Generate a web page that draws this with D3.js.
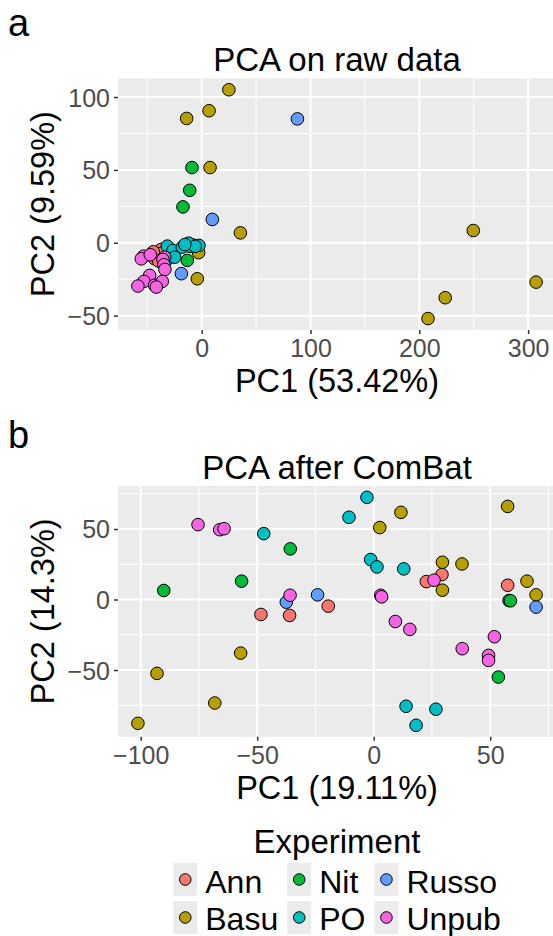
<!DOCTYPE html>
<html>
<head>
<meta charset="utf-8">
<script src="https://cdn.jsdelivr.net/npm/d3@7"></script>
<style>
  html, body { margin: 0; padding: 0; background: #ffffff; }
  svg text { font-family: "Liberation Sans", Arial, Helvetica, sans-serif; }
</style>
</head>
<body>
<svg id="fig" width="553" height="936"></svg>
<script>
// Experiment groups and their ggplot-style hue colours
const experiments = ["Ann", "Basu", "Nit", "PO", "Russo", "Unpub"];
const expColors = ["#F8766D", "#B79F00", "#00BA38", "#00BFC4", "#619CFF", "#F564E3"];

// PCA scores on raw data: [PC1, PC2, experiment]
const rawPoints = [
  [-37.1, -4.6, "Ann"], [-43.2, -11.0, "Ann"], [-40.5, -7.5, "Ann"],
  [-35.5, -6.8, "Ann"], [-44.5, -6.2, "Ann"], [-39.5, -12.5, "Ann"],
  [25, 105, "Basu"], [6.8, 90.6, "Basu"], [-13.8, 85.3, "Basu"], [7.7, 51.6, "Basu"],
  [35.6, 6.8, "Basu"], [-27.9, -6.4, "Basu"], [-2.8, -6.8, "Basu"], [-4.0, -24.7, "Basu"],
  [249.6, 8.4, "Basu"], [307.3, -27, "Basu"], [223.8, -37.7, "Basu"], [208, -52, "Basu"],
  [-8.9, 51.6, "Nit"], [-11, 36, "Nit"], [-17.2, 24.6, "Nit"], [-8, -1.6, "Nit"],
  [-13.2, -12.1, "Nit"], [-10.5, -2.5, "Nit"],
  [-31.6, -2.3, "PO"], [-26.4, -5.3, "PO"], [-17.8, -3, "PO"], [-12, -0.3, "PO"],
  [-2.5, -1.8, "PO"], [-31, -11, "PO"], [-24.8, -9.9, "PO"], [-6, -2.4, "PO"], [-15.5, -1.2, "PO"],
  [88, 85, "Russo"], [9.8, 16, "Russo"], [-18.7, -21.2, "Russo"],
  [-53.4, -9.2, "Unpub"], [-55.5, -11, "Unpub"], [-47.2, -8.2, "Unpub"], [-34, -9.9, "Unpub"],
  [-35.6, -11.5, "Unpub"], [-34.7, -15.1, "Unpub"], [-33.8, -18.3, "Unpub"], [-47.8, -22.4, "Unpub"],
  [-53.1, -26.5, "Unpub"], [-58.6, -29.7, "Unpub"], [-43.2, -29.2, "Unpub"], [-36.2, -26.5, "Unpub"],
  [-41.7, -30.4, "Unpub"]
];

// PCA scores after ComBat batch correction: [PC1, PC2, experiment]
const combatPoints = [
  [-48.4, -10.6, "Ann"], [-36.1, -11.3, "Ann"], [-19.5, -4.7, "Ann"],
  [22.6, 12.7, "Ann"], [29.3, 17.7, "Ann"], [57.5, 10.1, "Ann"],
  [11.7, 61.8, "Basu"], [2.6, 51, "Basu"], [57.5, 66, "Basu"], [29.5, 26.4, "Basu"],
  [37.9, 25.2, "Basu"], [29.5, 6.6, "Basu"], [65.8, 13, "Basu"], [69.7, 3.3, "Basu"],
  [-57.1, -38, "Basu"], [-93, -52.4, "Basu"], [-68.2, -73.4, "Basu"], [-101.2, -87.8, "Basu"],
  [-35.8, 35.9, "Nit"], [-56.7, 13, "Nit"], [-90.1, 6.4, "Nit"], [58.1, -0.7, "Nit"],
  [58.7, -0.9, "Nit"], [53.5, -55, "Nit"],
  [-47.2, 46.7, "PO"], [-2.9, 72.4, "PO"], [-10.6, 58.3, "PO"], [-1.3, 28.3, "PO"],
  [1.4, 23.1, "PO"], [12.9, 21.7, "PO"], [13.9, -75.7, "PO"], [26.7, -77.8, "PO"], [18.2, -89.2, "PO"],
  [-37.5, -1.9, "Russo"], [-24.1, 3.3, "Russo"], [69.7, -5.4, "Russo"],
  [-75.4, 53.1, "Unpub"], [-66.1, 49.5, "Unpub"], [-64.2, 50.2, "Unpub"], [-35.9, 3, "Unpub"],
  [3, 3, "Unpub"], [3.4, 1.9, "Unpub"], [25.9, 13.7, "Unpub"], [9.3, -15.6, "Unpub"],
  [15.5, -21.2, "Unpub"], [51.8, -26.4, "Unpub"], [38, -34.9, "Unpub"], [49.3, -39.6, "Unpub"],
  [49.3, -43.2, "Unpub"]
];

// Axis breaks
const rawXTicks = [0, 100, 200, 300];
const rawYTicks = [-50, 0, 50, 100];
const combatXTicks = [-100, -50, 0, 50];
const combatYTicks = [-50, 0, 50];

const svg = d3.select("#fig");
const color = d3.scaleOrdinal().domain(experiments).range(expColors);
const fmt = v => (v < 0 ? "\u2212" + Math.abs(v) : String(v));

// ggplot-like continuous range: data extent padded by 5% on each side
function expanded(vals) {
  const [lo, hi] = d3.extent(vals);
  const pad = (hi - lo) * 0.05;
  return [lo - pad, hi + pad];
}

// midpoints between major breaks that fall inside the domain
function minorBreaks(major, domain) {
  const step = major[1] - major[0];
  const out = [];
  for (let v = major[0] - step / 2; v <= domain[1]; v += step) {
    if (v >= domain[0]) out.push(v);
  }
  return out;
}

function panel(opts) {
  const { points, left, right, top, bottom, xTicks, yTicks, title, xLabel, yLabel, tag, tagY } = opts;
  const x = d3.scaleLinear().domain(expanded(points.map(d => d[0]))).range([left, right]);
  const y = d3.scaleLinear().domain(expanded(points.map(d => d[1]))).range([bottom, top]);
  const g = svg.append("g");

  g.append("rect").attr("x", left).attr("y", top)
    .attr("width", right - left).attr("height", bottom - top).attr("fill", "#EBEBEB");

  // minor grid
  g.selectAll(".xminor").data(minorBreaks(xTicks, x.domain())).join("line")
    .attr("x1", d => x(d)).attr("x2", d => x(d)).attr("y1", top).attr("y2", bottom)
    .attr("stroke", "#ffffff").attr("stroke-width", 1);
  g.selectAll(".yminor").data(minorBreaks(yTicks, y.domain())).join("line")
    .attr("y1", d => y(d)).attr("y2", d => y(d)).attr("x1", left).attr("x2", right)
    .attr("stroke", "#ffffff").attr("stroke-width", 1);
  // major grid
  g.selectAll(".xmajor").data(xTicks).join("line")
    .attr("x1", d => x(d)).attr("x2", d => x(d)).attr("y1", top).attr("y2", bottom)
    .attr("stroke", "#ffffff").attr("stroke-width", 2);
  g.selectAll(".ymajor").data(yTicks).join("line")
    .attr("y1", d => y(d)).attr("y2", d => y(d)).attr("x1", left).attr("x2", right)
    .attr("stroke", "#ffffff").attr("stroke-width", 2);

  // axes
  const xAxis = d3.axisBottom(x).tickValues(xTicks).tickFormat(fmt).tickSizeInner(4).tickSizeOuter(0).tickPadding(6);
  const yAxis = d3.axisLeft(y).tickValues(yTicks).tickFormat(fmt).tickSizeInner(4).tickSizeOuter(0).tickPadding(4);
  const xa = g.append("g").attr("transform", `translate(0,${bottom})`).call(xAxis);
  const ya = g.append("g").attr("transform", `translate(${left},0)`).call(yAxis);
  [xa, ya].forEach(a => {
    a.select(".domain").remove();
    a.selectAll(".tick line").attr("stroke", "#333333").attr("stroke-width", 1.5);
    a.selectAll(".tick text").attr("fill", "#4D4D4D").style("font-size", "25px");
  });
  xa.selectAll(".tick text").attr("dy", "0.68em");
  ya.selectAll(".tick text").attr("dy", "0.36em");

  // points
  g.selectAll(".pt").data(points).join("circle")
    .attr("cx", d => x(d[0])).attr("cy", d => y(d[1])).attr("r", 6.3)
    .attr("fill", d => color(d[2])).attr("stroke", "#000000").attr("stroke-width", 1);

  g.append("text").attr("x", (left + right) / 2).attr("y", top - 7)
    .attr("text-anchor", "middle").style("font-size", "33px").text(title);
  g.append("text").attr("x", (left + right) / 2).attr("y", bottom + 62)
    .attr("text-anchor", "middle").style("font-size", "32.5px").text(xLabel);
  g.append("text").attr("transform", `translate(54,${(top + bottom) / 2}) rotate(-90)`)
    .attr("text-anchor", "middle").style("font-size", "32.5px").text(yLabel);
  g.append("text").attr("x", 8).attr("y", tagY).style("font-size", "38px").text(tag);
}

panel({
  points: rawPoints, left: 118, right: 556, top: 78.3, bottom: 330,
  xTicks: rawXTicks, yTicks: rawYTicks,
  title: "PCA on raw data", xLabel: "PC1 (53.42%)", yLabel: "PC2 (9.59%)",
  tag: "a", tagY: 36
});
panel({
  points: combatPoints, left: 118, right: 556, top: 486, bottom: 736.7,
  xTicks: combatXTicks, yTicks: combatYTicks,
  title: "PCA after ComBat", xLabel: "PC1 (19.11%)", yLabel: "PC2 (14.3%)",
  tag: "b", tagY: 448
});

// Legend: two rows, filled column-wise
const legendCenter = 337;
const lg = svg.append("g");
lg.append("text").attr("x", legendCenter).attr("y", 853).attr("text-anchor", "middle")
  .style("font-size", "33px").text("Experiment");

const nRows = 2;
const nCols = Math.ceil(experiments.length / nRows);
const keyW = 24, keyH = 33, keyGap = 8, colGap = 9;
const rowTop = [863, 901];
const rowBase = [892.5, 930];

// measure labels to size each column
const measure = lg.append("text").style("font-size", "32px");
const labelW = experiments.map(e => { measure.text(e); return measure.node().getComputedTextLength(); });
measure.remove();
const colW = d3.range(nCols).map(c => d3.max(d3.range(nRows).map(r => labelW[c * nRows + r] || 0)));
const totalW = d3.sum(colW) + nCols * (keyW + keyGap) + (nCols - 1) * colGap;
let cursor = legendCenter - totalW / 2;
d3.range(nCols).forEach(c => {
  d3.range(nRows).forEach(r => {
    const i = c * nRows + r;
    if (i >= experiments.length) return;
    lg.append("rect").attr("x", cursor).attr("y", rowTop[r]).attr("width", keyW).attr("height", keyH)
      .attr("fill", "#EBEBEB");
    lg.append("circle").attr("cx", cursor + keyW / 2).attr("cy", rowTop[r] + keyH / 2).attr("r", 5.8)
      .attr("fill", color(experiments[i])).attr("stroke", "#000000").attr("stroke-width", 1);
    lg.append("text").attr("x", cursor + keyW + keyGap).attr("y", rowBase[r])
      .style("font-size", "32px").text(experiments[i]);
  });
  cursor += keyW + keyGap + colW[c] + colGap;
});
</script>
</body>
</html>
